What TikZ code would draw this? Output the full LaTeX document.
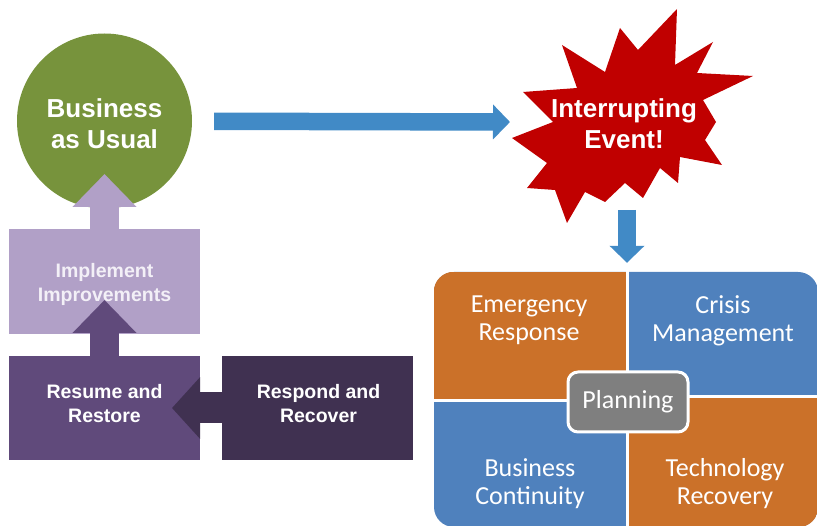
\documentclass[tikz,border=0pt]{standalone}
\usepackage{fontspec}
\setmainfont{Liberation Sans}
\newfontfamily\calib{Carlito}
\usetikzlibrary{arrows.meta}
\definecolor{bauGreen}{HTML}{77933C}
\definecolor{arrowBlue}{HTML}{418AC6}
\definecolor{starRed}{HTML}{C00000}
\definecolor{lPurple}{HTML}{B1A0C7}
\definecolor{mPurple}{HTML}{604A7B}
\definecolor{dPurple}{HTML}{403151}
\definecolor{qOrange}{HTML}{CB7129}
\definecolor{qBlue}{HTML}{4F81BD}
\definecolor{pGray}{HTML}{7F7F7F}
\definecolor{softWhite}{HTML}{F3F0F7}
\begin{document}
\begin{tikzpicture}[x=1pt,y=-1pt,
  bigtext/.style={text=white,font=\fontsize{26}{31}\selectfont\bfseries,align=center,inner sep=0pt},
  boxtext/.style={text=white,font=\fontsize{19.5}{24}\selectfont\bfseries,align=center,inner sep=0pt},
  stepbox/.style={rectangle,minimum width=191pt,minimum height=105pt,inner sep=0pt},
  quadtext/.style={text=white,font=\calib\fontsize{26}{28}\selectfont,align=center,inner sep=0pt},
  bluearrow/.style={draw=arrowBlue,line width=17.5pt,-{Triangle[width=34pt,length=17pt]}},
  vertarrow/.style={line width=29pt,-{Triangle[width=62pt,length=33pt]}},
  divider/.style={draw=white,line width=3pt}
]
\useasboundingbox (0,0) rectangle (817,526);

% Business as usual
\node[circle,fill=bauGreen,minimum size=175pt,inner sep=0pt] (bau) at (104.5,121) {};
\node[bigtext] (bauTxt) at (104.5,124) {Business\\as Usual};

% Implement improvements
\draw[lPurple,vertarrow,shorten >=53pt] (104.5,229) coordinate (implTop) -- (bau.center);
\node[stepbox,fill=lPurple] (impl) at (104.5,281.5) {};
\node[boxtext,text=softWhite] (implTxt) at (104.5,284.5) {Implement\\Improvements};

% Resume and restore
\draw[mPurple,vertarrow,shorten >=18.5pt] (104.5,356) coordinate (resTop) -- (impl.center);
\node[stepbox,fill=mPurple,minimum height=104pt] (resBox) at (104.5,408) {};
\node[boxtext] (resTxt) at (104.5,403.5) {Resume and\\Restore};

% Respond and recover
\node[stepbox,fill=dPurple,minimum height=104pt] (resp) at (317.5,408) {};
\node[boxtext] (respTxt) at (318.5,403.5) {Respond and\\Recover};
\draw[dPurple,line width=31pt,-{Triangle[width=60pt,length=28pt]},shorten >=67.5pt] (resp.west) -- (resBox.center);

% Interrupting event
\fill[starRed] (677,9) -- (675,65) -- (713,42) -- (697,73) -- (753,76) -- (703,100)
  -- (716,122) -- (705,140) -- (722,165) -- (680,157) -- (678,183) -- (660,168)
  -- (643,198) -- (625,183) -- (605,202) -- (585,192) -- (567,223) -- (555,190)
  -- (527,188) -- (547,163) -- (512,138) -- (553,122) -- (523,92) -- (577,88)
  -- (562,45) -- (605,72) -- (620,28) -- (638,50) -- cycle;
\node[bigtext] (ev) at (624,123.5) {Interrupting\\Event!};
\coordinate (evW) at (510,122);
\coordinate (evS) at (627,210);

\draw[bluearrow,shorten <=22pt] (bau) -- (evW);

% Quadrants
\node[fill=qBlue,rounded corners=20pt,minimum width=384pt,minimum height=255pt,inner sep=0pt] (quad) at (626,399.5) {};
\begin{scope}
  \clip[rounded corners=20pt] (quad.north west) rectangle (quad.south east);
  \fill[qOrange] (quad.north west) rectangle (627.5,401);
  \fill[qOrange] (627.5,397) rectangle (quad.south east);
\end{scope}
\draw[divider] (627.5,270) -- (627.5,530);
\draw[divider] (430,401) -- (627.5,401);
\draw[divider] (627.5,397) -- (822,397);

\draw[bluearrow,shorten >=9pt] (evS) -- (evS |- quad.north);

\node[quadtext] (er) at (529,320.5) {Emergency\\Response};
\node[quadtext] (cm) at (723,320.5) {Crisis\\Management};
\node[quadtext] (bc) at (530,484) {Business\\Continuity};
\node[quadtext] (tr) at (725,484) {Technology\\Recovery};

\node[fill=pGray,draw=white,line width=3pt,rounded corners=10pt,minimum width=120pt,minimum height=60pt,inner sep=0pt,quadtext] (plan) at (628,402) {Planning};
\end{tikzpicture}
\end{document}
